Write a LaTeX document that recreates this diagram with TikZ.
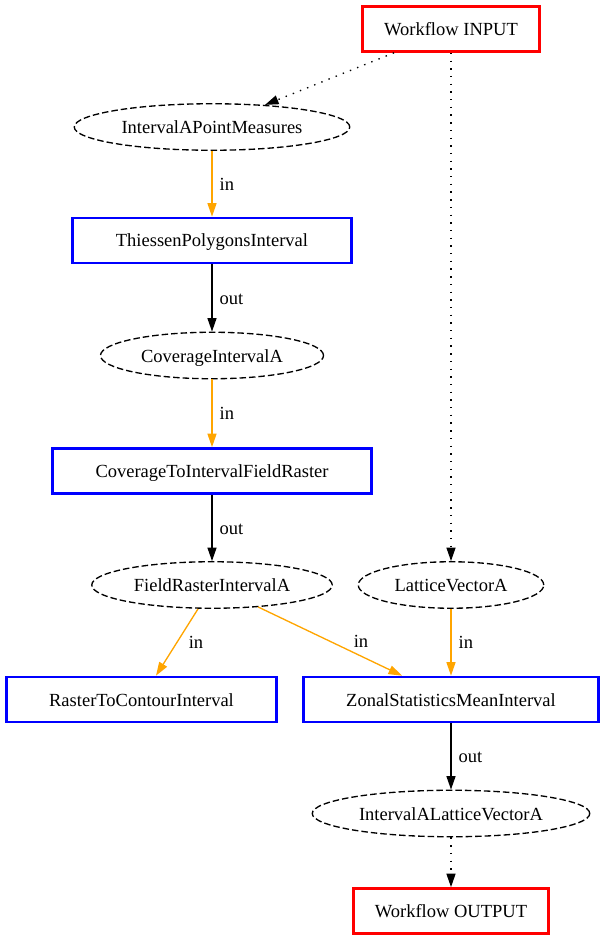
\documentclass[tikz,border=0pt]{standalone}
\usepackage{fontspec}
\setmainfont{Liberation Serif}
\usetikzlibrary{arrows.meta,shapes.geometric,calc}
\definecolor{gvorange}{HTML}{FFA500}
\definecolor{gvred}{HTML}{FF0000}
\definecolor{gvblue}{HTML}{0000FF}
\newcommand\zt[1]{\makebox[0pt]{#1}}
\begin{document}
\begin{tikzpicture}[x=1pt,y=-1pt,
  font=\fontsize{18.5}{22}\selectfont,
  every node/.style={inner sep=0pt, text height=16.5pt, text depth=3.5pt},
  wfbox/.style={draw=gvred, line width=2.67pt, rectangle, minimum height=45pt},
  procbox/.style={draw=gvblue, line width=2.67pt, rectangle, minimum height=45pt},
  databox/.style={draw=black, ellipse, dash pattern=on 6.5pt off 3pt, line width=1.33pt, minimum height=46.5pt},
  edge/.style={line width=1.33pt, -{Triangle[length=13.5pt,width=9pt]}},
  dotline/.style={dash pattern=on 1.4pt off 6.3pt},
  lab/.style={midway, anchor=west, xshift=7pt, text=black},
  dlab/.style={midway, anchor=center, text=black}
]
\useasboundingbox (0,0) rectangle (606,941);

\node[wfbox, minimum width=176.5pt] (in) at (451,29) {\zt{Workflow INPUT}};
\node[databox, minimum width=275.5pt] (ipm) at (212,127) {\zt{IntervalAPointMeasures}};
\node[procbox, minimum width=278.5pt] (thi) at (212,240.5) {\zt{ThiessenPolygonsInterval}};
\node[databox, minimum width=223pt] (cov) at (212,355.5) {\zt{CoverageIntervalA}};
\node[procbox, minimum width=319.5pt] (ctifr) at (212,471) {\zt{CoverageToIntervalFieldRaster}};
\node[databox, minimum width=240.5pt] (fr) at (212,585) {\zt{FieldRasterIntervalA}};
\node[databox, minimum width=185.5pt] (lv) at (451,585) {\zt{LatticeVectorA}};
\node[procbox, minimum width=270.5pt] (rtc) at (141.5,699.5) {\zt{RasterToContourInterval}};
\node[procbox, minimum width=295.5pt] (zon) at (451,699.5) {\zt{ZonalStatisticsMeanInterval}};
\node[databox, minimum width=277.5pt] (ialv) at (451,813.5) {\zt{IntervalALatticeVectorA}};
\node[wfbox, minimum width=194.5pt] (out) at (451,911) {\zt{Workflow OUTPUT}};

\draw[edge, dotline] ([xshift=-57pt]in.south) -- ([xshift=53pt,yshift=-1.8pt]ipm.north);
\draw[edge, dotline] (in.south) -- (lv.north);
\draw[edge, gvorange] (ipm.south) -- node[lab]{in} (thi.north);
\draw[edge] (thi.south) -- node[lab]{out} (cov.north);
\draw[edge, gvorange] (cov.south) -- node[lab]{in} (ctifr.north);
\draw[edge] (ctifr.south) -- node[lab]{out} (fr.north);
\draw[edge, gvorange] ([xshift=-14pt]fr.south) -- node[dlab, xshift=19pt]{in} ([xshift=14.5pt]rtc.north);
\draw[edge, gvorange] ([xshift=46pt,yshift=2pt]fr.south) -- node[dlab, xshift=31pt]{in} ([xshift=-49pt]zon.north);
\draw[edge, gvorange] (lv.south) -- node[lab]{in} (zon.north);
\draw[edge] (zon.south) -- node[lab]{out} (ialv.north);
\draw[edge, dotline] (ialv.south) -- (out.north);
\end{tikzpicture}
\end{document}
